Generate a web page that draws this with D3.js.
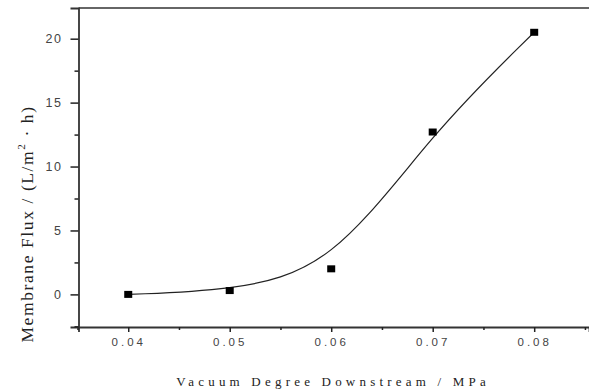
<!DOCTYPE html>
<html>
<head>
<meta charset="utf-8">
<script src="https://cdn.jsdelivr.net/npm/d3@7"></script>
<style>
  body { margin: 0; background: #fff; }
  svg text { fill: #333; }
</style>
</head>
<body>
<svg id="chart" width="589" height="392"></svg>
<script>
// data
const pressure = [0.04, 0.05, 0.06, 0.07, 0.08];
const flux = [0.0, 0.3, 2.0, 12.7, 20.5];
const xTickValues = [0.04, 0.05, 0.06, 0.07, 0.08];
const yTickValues = [0, 5, 10, 15, 20];

const width = 589, height = 392;
const plotLeft = 78.5, plotRight = 589, plotTop = 8, plotBottom = 327;

const svg = d3.select("#chart");

// scales
let x = d3.scaleLinear().domain([0.0351, 0.0854]).range([plotLeft, plotRight]);
let y = d3.scaleLinear().domain([-2.55, 22.4]).range([plotBottom, plotTop]);

// axes
let xAxis = d3.axisBottom(x)
    .tickValues(xTickValues)
    .tickSize(5)
    .tickPadding(6)
    .tickFormat(d3.format(".2f"));
let xMinor = d3.axisBottom(x)
    .tickValues([0.035, 0.045, 0.055, 0.065, 0.075, 0.085])
    .tickSize(3)
    .tickFormat("");

let gx = svg.append("g").attr("transform", "translate(0," + plotBottom + ")").call(xAxis);
svg.append("g").attr("transform", "translate(0," + plotBottom + ")").call(xMinor)
    .select(".domain").remove();

let yAxis = d3.axisLeft(y)
    .tickValues(yTickValues)
    .tickSize(8)
    .tickPadding(8);
let yMinor = d3.axisLeft(y)
    .tickValues([-2.5, 2.5, 7.5, 12.5, 17.5])
    .tickSize(4)
    .tickFormat("");

let gy = svg.append("g").attr("transform", "translate(" + plotLeft + ",0)").call(yAxis);
svg.append("g").attr("transform", "translate(" + plotLeft + ",0)").call(yMinor)
    .select(".domain").remove();

// top frame line
svg.append("line")
    .attr("x1", plotLeft).attr("x2", plotRight)
    .attr("y1", plotTop).attr("y2", plotTop)
    .attr("stroke", "#333").attr("stroke-width", 1.5);

svg.selectAll(".domain").attr("stroke", "#333").attr("stroke-width", 1.8);
svg.selectAll(".tick line").attr("stroke", "#222").attr("stroke-width", 1.5);
svg.selectAll(".tick text")
    .attr("font-family", "Arial, 'Liberation Sans', sans-serif")
    .attr("font-size", 12.5)
    .style("fill", "#444");
gx.selectAll(".tick text").attr("letter-spacing", "3px").attr("font-size", 11.5);
gy.selectAll(".tick text").attr("letter-spacing", "1.5px");

// smooth curve through points
let line = d3.line()
    .x(function(d, i) { return x(pressure[i]); })
    .y(function(d) { return y(d); })
    .curve(d3.curveBasis);

svg.append("path")
    .attr("d", line(flux))
    .attr("fill", "none")
    .attr("stroke", "#222")
    .attr("stroke-width", 1.2);

// markers
svg.selectAll(".dot")
    .data(flux)
    .enter().append("rect")
    .attr("class", "dot")
    .attr("x", function(d, i) { return x(pressure[i]) - 4; })
    .attr("y", function(d) { return y(d) - 3.5; })
    .attr("width", 8)
    .attr("height", 7)
    .attr("fill", "#000");

// axis titles
svg.append("text")
    .attr("x", 333).attr("y", 386)
    .attr("text-anchor", "middle")
    .attr("font-family", "'Liberation Serif', 'Times New Roman', serif")
    .attr("font-size", 13)
    .attr("letter-spacing", "4.2px")
    .style("fill", "#222")
    .text("Vacuum Degree Downstream / MPa");

let yt = svg.append("text")
    .attr("transform", "translate(33,224) rotate(-90)")
    .attr("text-anchor", "middle")
    .attr("font-family", "'Liberation Serif', 'Times New Roman', serif")
    .attr("font-size", 17.5)
    .attr("letter-spacing", "1.6px")
    .style("fill", "#222");
yt.append("tspan").text("Membrane Flux / (L/m");
yt.append("tspan").attr("dy", -8).attr("font-size", 11).text("2");
yt.append("tspan").attr("dy", 8).text(" · h)");
</script>
</body>
</html>
